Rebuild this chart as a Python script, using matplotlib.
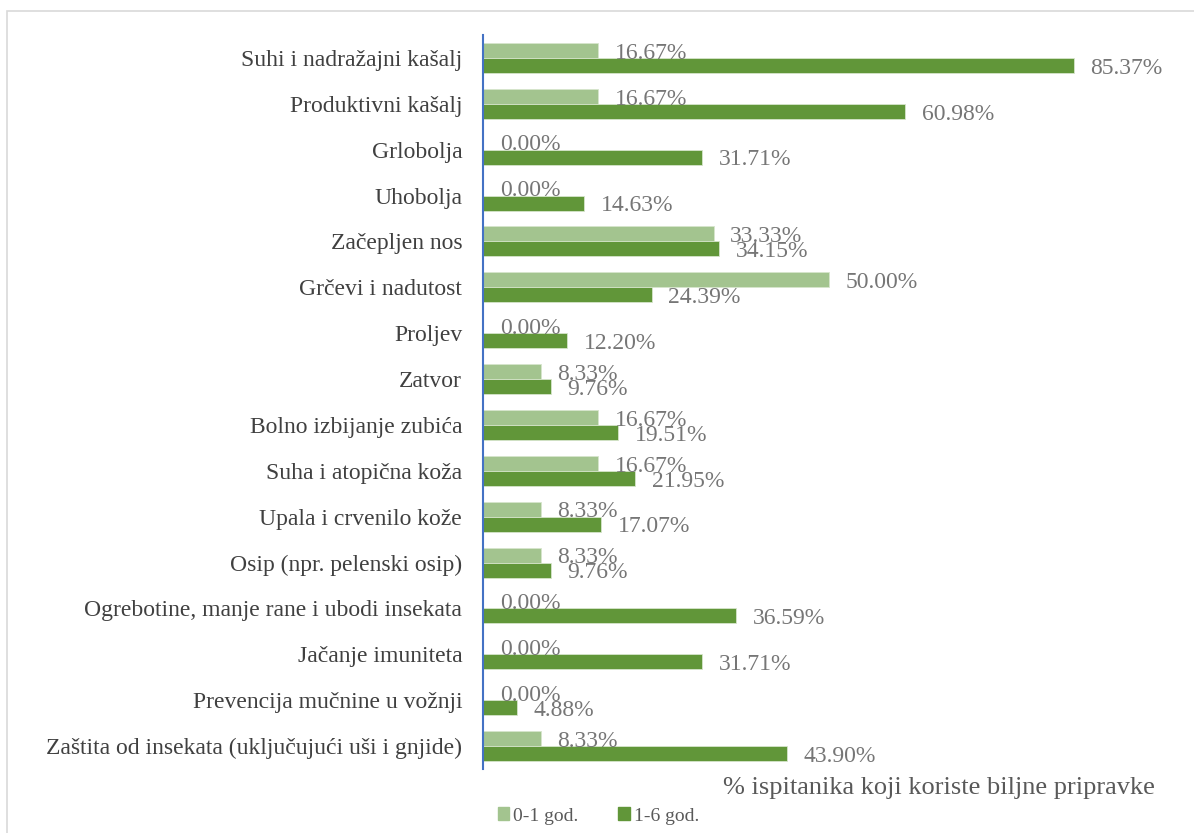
import matplotlib
matplotlib.use("Agg")
import matplotlib.pyplot as plt
import numpy as np
from matplotlib.patches import Rectangle

categories = [
    "Suhi i nadražajni kašalj",
    "Produktivni kašalj",
    "Grlobolja",
    "Uhobolja",
    "Začepljen nos",
    "Grčevi i nadutost",
    "Proljev",
    "Zatvor",
    "Bolno izbijanje zubića",
    "Suha i atopična koža",
    "Upala i crvenilo kože",
    "Osip (npr. pelenski osip)",
    "Ogrebotine, manje rane i ubodi insekata",
    "Jačanje imuniteta",
    "Prevencija mučnine u vožnji",
    "Zaštita od insekata (uključujući uši i gnjide)",
]
vals_0_1 = [16.67, 16.67, 0.00, 0.00, 33.33, 50.00, 0.00, 8.33, 16.67, 16.67, 8.33, 8.33, 0.00, 0.00, 0.00, 8.33]
vals_1_6 = [85.37, 60.98, 31.71, 14.63, 34.15, 24.39, 12.20, 9.76, 19.51, 21.95, 17.07, 9.76, 36.59, 31.71, 4.88, 43.90]
series_names = ["0-1 god.", "1-6 god."]
axis_title = "% ispitanika koji koriste biljne pripravke"

plt.rcParams['font.family'] = ['Liberation Serif', 'DejaVu Serif']

c_light = "#A3C48F"
c_dark = "#619639"
lab_col = "#767676"

fig = plt.figure(figsize=(11.94, 8.33), dpi=100)
ax = fig.add_axes([483/1194, 1-769/833, (1175-483)/1194, (769-35)/833])

y = np.arange(len(categories))
h = 0.327
b1 = ax.barh(y - h/2, vals_0_1, height=h, color=c_light, edgecolor="#D6E5CC", linewidth=0.6, label=series_names[0])
b2 = ax.barh(y + h/2, vals_1_6, height=h, color=c_dark, edgecolor="#D6E5CC", linewidth=0.6, label=series_names[1])

for bars, vals in ((b1, vals_0_1), (b2, vals_1_6)):
    for rect, v in zip(bars, vals):
        ax.annotate(f"{v:.2f}%", xy=(v, rect.get_y() + rect.get_height()/2),
                    xytext=(12, -2), textcoords="offset points",
                    ha="left", va="center", fontsize=17, color=lab_col)

ax.set_xlim(0, 100)
ax.set_ylim(len(categories) - 0.5, -0.5)
ax.set_yticks(y)
ax.set_yticklabels(categories, fontsize=17, color="#404040")
ax.tick_params(axis="y", length=0, pad=15)
ax.set_xticks([])
for s in ("top", "right", "bottom"):
    ax.spines[s].set_visible(False)
ax.spines["left"].set_color("#4472C4")
ax.spines["left"].set_linewidth(1.5)

fig.text(1155/1194, 1-788/833, axis_title, ha="right", va="center", fontsize=19, color="#595959")

handles = [Rectangle((0, 0), 1, 1, color=c_light), Rectangle((0, 0), 1, 1, color=c_dark)]
fig.legend(handles, series_names, loc="center left", bbox_to_anchor=(480/1194, 1-816/833),
           ncol=2, frameon=False, fontsize=14, handlelength=0.6, handleheight=0.6,
           handletextpad=0.2, columnspacing=2.05, labelcolor="#595959")

# figure border (top and left visible)
border = Rectangle((7/1194, -0.05), 1.2, 1 - 11/833 + 0.05, transform=fig.transFigure,
                   fill=False, edgecolor="#D9D9D9", linewidth=1.2)
fig.add_artist(border)

fig.savefig("out.png", dpi=100)
